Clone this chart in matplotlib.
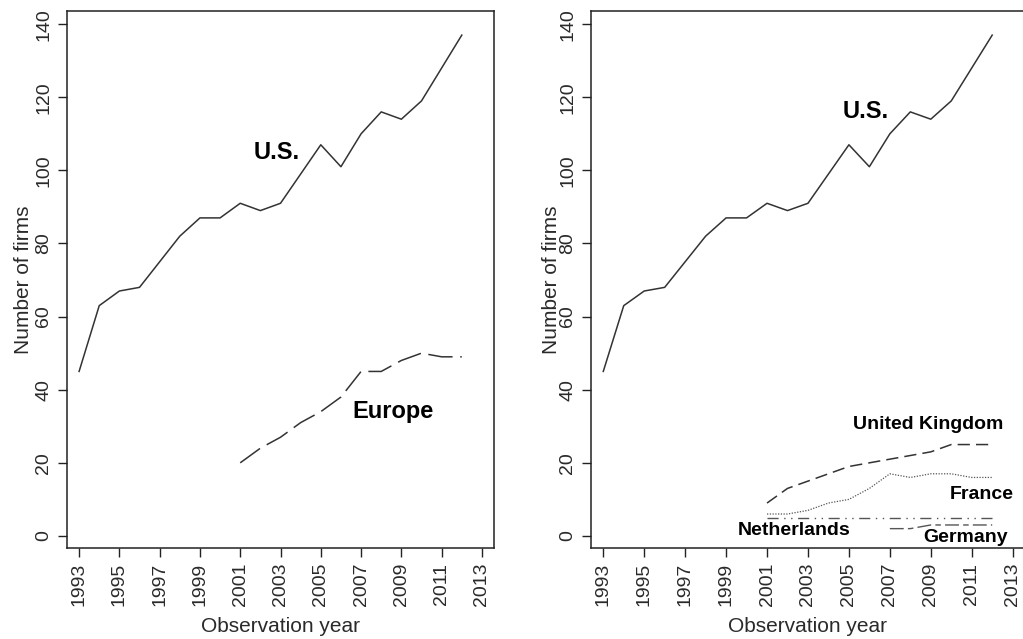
import matplotlib
matplotlib.use("Agg")
import matplotlib.pyplot as plt
from matplotlib import font_manager

# data
years = list(range(1993, 2013))
us = [45, 63, 67, 68, 75, 82, 87, 87, 91, 89, 91, 99, 107, 101, 110, 116, 114, 119, 128, 137]

eu_years = list(range(2001, 2013))
europe = [20, 24, 27, 31, 34, 38, 45, 45, 48, 50, 49, 49]
uk = [9, 13, 15, 17, 19, 20, 21, 22, 23, 25, 25, 25]
france = [6, 6, 7, 9, 10, 13, 17, 16, 17, 17, 16, 16]
netherlands = [5, 5, 5, 5, 5, 5, 5, 5, 5, 5, 5, 5]

de_years = list(range(2007, 2013))
germany = [2, 2, 3, 3, 3, 3]

xticks = list(range(1993, 2014, 2))
yticks = [0, 20, 40, 60, 80, 100, 120, 140]

# narrow bold font for the in-plot labels, if it exists
names = {f.name for f in font_manager.fontManager.ttflist}
if "Liberation Sans Narrow" in names:
    lab_font = "Liberation Sans Narrow"
    big, small = 19, 15.5
else:
    lab_font = "Liberation Sans"
    big, small = 17, 14

plt.rcParams["font.family"] = ["Liberation Sans", "DejaVu Sans"]

fig = plt.figure(figsize=(10.23, 6.39), dpi=100)
ax1 = fig.add_axes([0.0655, 0.1424, 0.4174, 0.8404])
ax2 = fig.add_axes([0.5777, 0.1424, 0.4242, 0.8404])

lc = "#333333"

for ax in (ax1, ax2):
    ax.plot(years, us, color=lc, lw=1.1)
    ax.set_xlim(1992.4, 2013.6)
    ax.set_ylim(-3.3, 143.6)
    ax.set_xticks(xticks)
    ax.set_xticklabels([str(y) for y in xticks], rotation=90)
    ax.set_yticks(yticks)
    ax.set_yticklabels([str(v) for v in yticks], rotation=90, va="center")
    ax.tick_params(length=6.5, width=1.0, color="#222222", labelsize=14,
                   pad=4, labelcolor="#2a2a2a")
    for s in ax.spines.values():
        s.set_linewidth(1.1)
        s.set_color("#222222")
    ax.set_xlabel("Observation year", fontsize=15, color="#2a2a2a", labelpad=8)

ax1.set_ylabel("Number of firms", fontsize=15, color="#2a2a2a", labelpad=2)
ax2.set_ylabel("Number of firms", fontsize=15, color="#2a2a2a", labelpad=-1)

# left panel: U.S. vs Europe
ax1.plot(eu_years, europe, color=lc, lw=1.1, dashes=(16, 5))
ax1.text(2002.8, 105, "U.S.", family=lab_font, weight="bold", fontsize=big,
         ha="center", va="center")
ax1.text(2008.6, 34, "Europe", family=lab_font, weight="bold", fontsize=big,
         ha="center", va="center")

# right panel: U.S. and European countries
ax2.plot(eu_years, uk, color=lc, lw=1.1, dashes=(8, 4))
ax2.plot(eu_years, france, color="#555555", lw=0.9, dashes=(1, 1.2))
ax2.plot(eu_years, netherlands, color="#555555", lw=1.0, dashes=(8, 4, 1, 4, 1, 4))
ax2.plot(de_years, germany, color="#555555", lw=1.0, dashes=(10, 3, 4, 3))
ax2.text(2005.8, 116, "U.S.", family=lab_font, weight="bold", fontsize=big,
         ha="center", va="center")
ax2.text(2008.85, 30.4, "United Kingdom", family=lab_font, weight="bold",
         fontsize=small, ha="center", va="center")
ax2.text(2011.5, 11.2, "France", family=lab_font, weight="bold",
         fontsize=small, ha="center", va="center")
ax2.text(2002.3, 1.4, "Netherlands", family=lab_font, weight="bold",
         fontsize=small, ha="center", va="center")
ax2.text(2010.7, -0.3, "Germany", family=lab_font, weight="bold",
         fontsize=small, ha="center", va="center")

fig.savefig("out.png", dpi=100)
